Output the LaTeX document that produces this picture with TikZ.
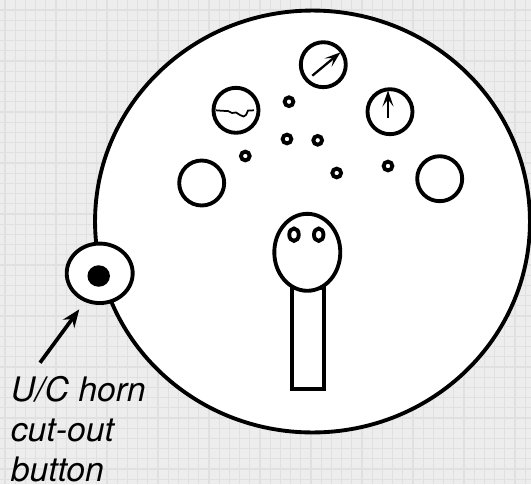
\documentclass[tikz,border=0pt]{standalone}
\usepackage{fontspec}
\setsansfont{TeX Gyre Heros}
\usetikzlibrary{shapes.geometric,arrows.meta}

\definecolor{panel}{HTML}{EDEDED}
\definecolor{panelgrid}{HTML}{E0E0E0}

\tikzset{
  ring/.style={ellipse,draw,line width=2.2pt,fill=white,inner sep=0pt,minimum width=#1},
  gauge/.style={circle,draw,line width=2.2pt,fill=white,inner sep=0pt,minimum size=0.9cm},
  knob/.style={circle,draw,line width=2.2pt,fill=white,inner sep=0pt,minimum size=0.175cm},
  needle/.style={line width=1.3pt,-{Stealth[length=0.32cm,width=0.22cm,inset=0.14cm]}},
}

\begin{document}
\begin{tikzpicture}[x=0.02cm,y=-0.02cm]
\useasboundingbox (0,0) rectangle (531,484);
\fill[panel] (0,0) rectangle (531,484);
% background grid
\foreach \i in {0,...,51}
  \draw[panelgrid,line width=0.6pt] ({5+10.2*\i},0) -- ({5+10.2*\i},484);
\foreach \j in {0,...,46}
  \draw[panelgrid,line width=0.6pt] (0,{10+10.2*\j}) -- (531,{10+10.2*\j});

\node(face) at (312.5,221.5)[ring=8.7cm,minimum height=8.44cm]{};

% gauges
\node(dialtop) at (323.3,64.7)[gauge]{};
\node(dialleft) at (236,110.3)[gauge]{};
\node(dialright) at (390,111.7)[gauge]{};
\node(plainleft) at (201.7,183)[gauge]{};
\node(plainright) at (439.7,178.7)[gauge]{};

% needles
\coordinate(topfrom) at (312.3,75.7);
\coordinate(topto) at (340.5,52.3);
\coordinate(rightfrom) at (388,117.5);
\coordinate(rightto) at (388,90.5);
\draw[needle] (topfrom) -- (topto);
\draw[needle] (rightfrom) -- (rightto);

% trace in the left gauge
\draw[line width=1pt] (216,110.3) -- (222,110.8) -- (228,111) -- (232,113) -- (236,112.5)
   -- (240,115) -- (243.5,116.5) -- (246,115) -- (248,110.6) -- (254,110.3);

% small lamps
\node(lampa) at (289,101.7)[knob]{};
\node(lampb) at (287,139)[knob]{};
\node(lampc) at (317.7,140.3)[knob]{};
\node(lampd) at (245.3,156)[knob]{};
\node(lampe) at (336.7,173)[knob]{};
\node(lampf) at (388,166)[knob]{};

% handle and knob
\node(stem) at (307.7,338.3)[rectangle,draw,line width=2.2pt,fill=white,inner sep=0pt,minimum width=0.64cm,minimum height=2.02cm]{};
\node(head) at (307.3,252.3)[ring=1.32cm,minimum height=1.54cm]{};
\node(eyeleft) at (294,234.7)[ring=0.19cm,minimum height=0.25cm,line width=2.2pt]{};
\node(eyeright) at (318.7,234.7)[ring=0.19cm,minimum height=0.25cm,line width=2.2pt]{};

% cut-out button
\node(button) at (99.7,273.3)[ring=1.32cm,minimum height=1.19cm]{};
\node(dot) at (98.7,276)[ellipse,fill,inner sep=0pt,minimum width=0.45cm,minimum height=0.43cm]{};

\coordinate(callfrom) at (40,362.7);
\coordinate(callto) at (79.3,309.3);
\draw[line width=2.1pt,-{Stealth[length=0.36cm,width=0.28cm,inset=0.12cm]}] (callfrom) -- (callto);

\node(callout) at (10.5,376)[anchor=north west,inner sep=0pt,align=left,font=\sffamily\itshape\fontsize{19.2pt}{22.7pt}\selectfont]{U/C horn\\cut-out\\button};

\end{tikzpicture}
\end{document}
